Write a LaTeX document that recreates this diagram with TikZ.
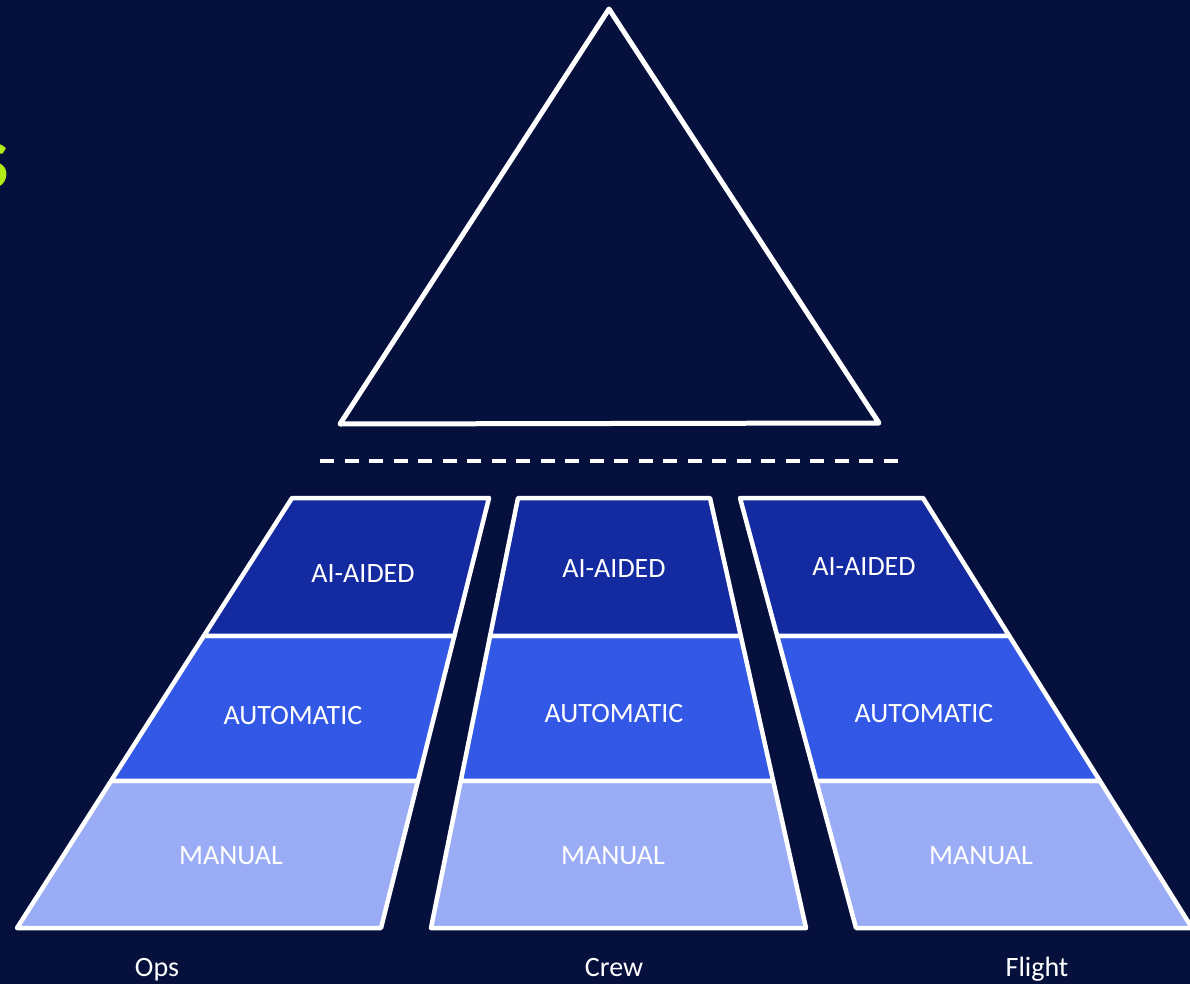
\documentclass[tikz,border=0pt]{standalone}
\usepackage{fontspec}
\setmainfont{Carlito}
\usetikzlibrary{calc}
\definecolor{bg}{RGB}{6,16,60}
\definecolor{aiblue}{RGB}{19,42,160}
\definecolor{autoblue}{RGB}{51,88,230}
\definecolor{manblue}{RGB}{153,172,245}
\definecolor{lime}{RGB}{178,236,22}
\begin{document}
\begin{tikzpicture}[x=1pt,y=-1pt,
  band/.style={draw=white,line width=4.5pt,line join=round},
  bandtext/.style={text=white,font=\fontsize{28}{30}\selectfont,inner sep=0pt,anchor=base},
  caption/.style={text=white,font=\fontsize{28}{30}\selectfont,inner sep=0pt,anchor=base}]
\fill[bg] (0,0) rectangle (1190,984);
\useasboundingbox (0,0) rectangle (1190,984);
\clip (0,0) rectangle (1190,984);
% partial green title glyph at left edge
\node[text=lime,font=\bfseries\fontsize{92}{96}\selectfont,inner sep=0pt,anchor=base east] (title) at (9,189) {s};
% triangle
\coordinate (apex) at (609,9);
\coordinate (tl) at (340,424);
\coordinate (tr) at (879,423);
\draw[white,line width=5pt,line join=round] (apex) -- (tr) -- (tl) -- cycle;
% dashed line
\coordinate (dA) at (320,461);
\coordinate (dB) at (898,461);
\draw[white,line width=3.5pt,dash pattern=on 14pt off 10.5pt] (dA) -- (dB);
% panels
\foreach \p/\tlx/\trx/\brx/\blx in {ops/292/489/381/17, crew/518/710/806/431, flt/740/923/1192/856}{
  \coordinate (\p-tl) at (\tlx,498);
  \coordinate (\p-tr) at (\trx,498);
  \coordinate (\p-br) at (\brx,928);
  \coordinate (\p-bl) at (\blx,928);
  \coordinate (\p-l1) at ($(\p-tl)!0.3209!(\p-bl)$);
  \coordinate (\p-r1) at ($(\p-tr)!0.3209!(\p-br)$);
  \coordinate (\p-l2) at ($(\p-tl)!0.6581!(\p-bl)$);
  \coordinate (\p-r2) at ($(\p-tr)!0.6581!(\p-br)$);
  \filldraw[band,fill=manblue] (\p-l2) -- (\p-r2) -- (\p-br) -- (\p-bl) -- cycle;
  \filldraw[band,fill=autoblue] (\p-l1) -- (\p-r1) -- (\p-r2) -- (\p-l2) -- cycle;
  \filldraw[band,fill=aiblue] (\p-tl) -- (\p-tr) -- (\p-r1) -- (\p-l1) -- cycle;
}
% band texts
\node[bandtext] (ops-ai) at (363,582) {AI-AIDED};
\node[bandtext] (ops-auto) at (293,724) {AUTOMATIC};
\node[bandtext] (ops-man) at (231,864) {MANUAL};
\node[bandtext] (crew-ai) at (614,577) {AI-AIDED};
\node[bandtext] (crew-auto) at (614,722) {AUTOMATIC};
\node[bandtext] (crew-man) at (613,864) {MANUAL};
\node[bandtext] (flt-ai) at (864,575) {AI-AIDED};
\node[bandtext] (flt-auto) at (924,722) {AUTOMATIC};
\node[bandtext] (flt-man) at (981,864) {MANUAL};
% captions
\node[caption] (ops-lab) at (157,976) {Ops};
\node[caption] (crew-lab) at (614,976) {Crew};
\node[caption] (flt-lab) at (1037,976) {Flight};
\end{tikzpicture}
\end{document}
